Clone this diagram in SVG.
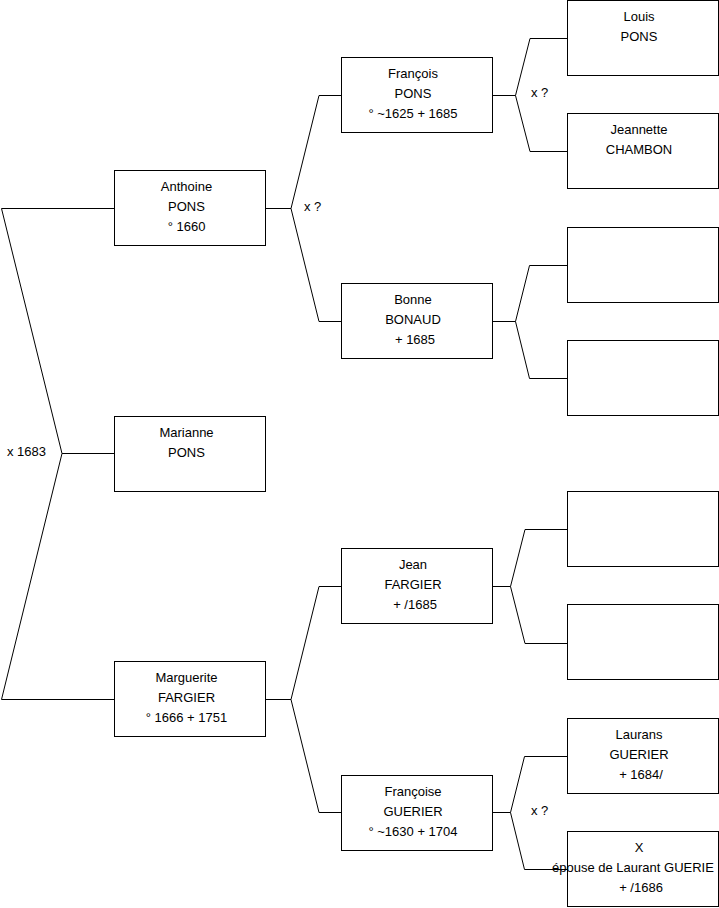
<svg xmlns="http://www.w3.org/2000/svg" width="719" height="908" viewBox="0 0 719 908">
<style>
.box{fill:#fff;stroke:#000;stroke-width:1}
.ln{fill:none;stroke:#000;stroke-width:1}
text{font-family:"Liberation Sans",Arial,sans-serif;font-size:13px;fill:#000}
.c{text-anchor:middle}
</style>
<rect width="719" height="908" fill="#fff"/>
<g id="connectors">
<polyline class="ln" points="114,208.5 1.5,208.5 62,453.5 1.5,699.5 114,699.5"/>
<line class="ln" x1="62" y1="453.5" x2="114" y2="453.5"/>
<polyline class="ln" points="341,95.5 319,95.5 291,208.5 319,321.5 341,321.5"/>
<line class="ln" x1="265" y1="208.5" x2="291" y2="208.5"/>
<polyline class="ln" points="341,586.5 319,586.5 291,699.5 319,812.5 341,812.5"/>
<line class="ln" x1="265" y1="699.5" x2="291" y2="699.5"/>
<polyline class="ln" points="567,38.5 530,38.5 515.5,95.5 530,151.5 567,151.5"/>
<line class="ln" x1="492" y1="95.5" x2="515.5" y2="95.5"/>
<polyline class="ln" points="567,265.5 529.5,265.5 515.5,321.5 529.5,378.5 567,378.5"/>
<line class="ln" x1="492" y1="321.5" x2="515.5" y2="321.5"/>
<polyline class="ln" points="567,529.5 525,529.5 510.5,586.5 525,643.5 567,643.5"/>
<line class="ln" x1="492" y1="586.5" x2="510.5" y2="586.5"/>
<polyline class="ln" points="567,756.5 524.5,756.5 510.5,812.5 524.5,869.5 567,869.5"/>
<line class="ln" x1="492" y1="812.5" x2="510.5" y2="812.5"/>
<text x="7" y="456">x 1683</text>
<text x="304" y="211">x ?</text>
<text x="531" y="97">x ?</text>
<text x="531" y="815">x ?</text>
</g>
<g id="anthoine"><rect class="box" x="114.5" y="170.5" width="151" height="75"/>
<text class="c" x="186.5" y="191">Anthoine</text><text class="c" x="186.5" y="211">PONS</text><text class="c" x="186.5" y="231">° 1660</text></g>
<g id="marianne"><rect class="box" x="114.5" y="416.5" width="151" height="75"/>
<text class="c" x="186.5" y="437">Marianne</text><text class="c" x="186.5" y="457">PONS</text></g>
<g id="marguerite"><rect class="box" x="114.5" y="661.5" width="151" height="75"/>
<text class="c" x="186.5" y="682">Marguerite</text><text class="c" x="186.5" y="702">FARGIER</text><text class="c" x="186.5" y="722">° 1666 + 1751</text></g>
<g id="francois"><rect class="box" x="341.5" y="57.5" width="151" height="75"/>
<text class="c" x="413" y="78">François</text><text class="c" x="413" y="98">PONS</text><text class="c" x="413" y="118">° ~1625 + 1685</text></g>
<g id="bonne"><rect class="box" x="341.5" y="283.5" width="151" height="75"/>
<text class="c" x="413" y="304">Bonne</text><text class="c" x="413" y="324">BONAUD</text><text class="c" x="415" y="344">+ 1685</text></g>
<g id="jean"><rect class="box" x="341.5" y="548.5" width="151" height="75"/>
<text class="c" x="413" y="569">Jean</text><text class="c" x="413" y="589">FARGIER</text><text class="c" x="415" y="609">+ /1685</text></g>
<g id="francoise"><rect class="box" x="341.5" y="775.5" width="151" height="75"/>
<text class="c" x="413" y="796">Françoise</text><text class="c" x="413" y="816">GUERIER</text><text class="c" x="413" y="836">° ~1630 + 1704</text></g>
<g id="louis"><rect class="box" x="567.5" y="0.5" width="151" height="75"/>
<text class="c" x="639" y="21">Louis</text><text class="c" x="639" y="41">PONS</text></g>
<g id="jeannette"><rect class="box" x="567.5" y="113.5" width="151" height="75"/>
<text class="c" x="639" y="134">Jeannette</text><text class="c" x="639" y="154">CHAMBON</text></g>
<g id="empty1"><rect class="box" x="567.5" y="227.5" width="151" height="75"/></g>
<g id="empty2"><rect class="box" x="567.5" y="340.5" width="151" height="75"/></g>
<g id="empty3"><rect class="box" x="567.5" y="491.5" width="151" height="75"/></g>
<g id="empty4"><rect class="box" x="567.5" y="604.5" width="151" height="75"/></g>
<g id="laurans"><rect class="box" x="567.5" y="718.5" width="151" height="75"/>
<text class="c" x="639" y="739">Laurans</text><text class="c" x="639" y="759">GUERIER</text><text class="c" x="641" y="779">+ 1684/</text></g>
<g id="x"><rect class="box" x="567.5" y="831.5" width="151" height="75"/>
<text class="c" x="639" y="852">X</text><text x="552" y="872">épouse de Laurant GUERIE</text><text class="c" x="641" y="892">+ /1686</text></g>
</svg>
